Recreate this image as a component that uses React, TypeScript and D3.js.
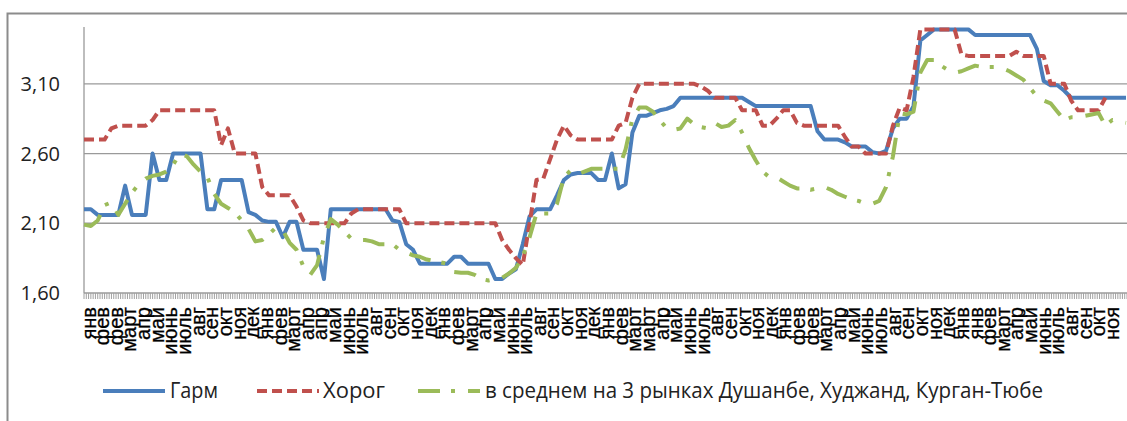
import * as d3 from 'd3';

// month label under every 6th tick of the category axis
const monthLabels = [
  'янв', 'фев', 'фев', 'март', 'апр', 'май', 'июнь', 'июль', 'авг', 'сен', 'окт', 'ноя', 'дек',
  'янв', 'фев', 'март', 'апр', 'апр', 'май', 'июнь', 'июль', 'авг', 'сен', 'окт', 'ноя', 'дек',
  'янв', 'фев', 'март', 'апр', 'май', 'июнь', 'июль', 'авг', 'сен', 'окт', 'ноя', 'дек',
  'янв', 'фев', 'март', 'март', 'апр', 'май', 'июнь', 'июль', 'авг', 'сен', 'окт', 'ноя', 'дек',
  'янв', 'фев', 'фев', 'март', 'апр', 'май', 'июнь', 'июль', 'авг', 'сен', 'окт', 'ноя', 'дек',
  'янв', 'янв', 'фев', 'март', 'апр', 'май', 'июнь', 'июль', 'авг', 'сен', 'окт', 'ноя',
];

const yTicks = [1.6, 2.1, 2.6, 3.1];

// Гарм
const garm = [
  2.20, 2.20, 2.16, 2.16, 2.16, 2.16, 2.37, 2.16, 2.16, 2.16,
  2.60, 2.41, 2.41, 2.60, 2.60, 2.60, 2.60, 2.60, 2.20, 2.20,
  2.41, 2.41, 2.41, 2.41, 2.18, 2.16, 2.12, 2.11, 2.11, 2.00,
  2.11, 2.11, 1.91, 1.91, 1.91, 1.70, 2.20, 2.20, 2.20, 2.20,
  2.20, 2.20, 2.20, 2.20, 2.20, 2.12, 2.11, 1.95, 1.91, 1.81,
  1.81, 1.81, 1.81, 1.81, 1.86, 1.86, 1.81, 1.81, 1.81, 1.81,
  1.70, 1.70, 1.74, 1.77, 1.95, 2.15, 2.20, 2.20, 2.20, 2.30,
  2.41, 2.45, 2.46, 2.46, 2.46, 2.41, 2.41, 2.60, 2.35, 2.38,
  2.75, 2.87, 2.87, 2.89, 2.91, 2.92, 2.94, 3.00, 3.00, 3.00,
  3.00, 3.00, 3.00, 3.00, 3.00, 3.00, 3.00, 2.97, 2.94, 2.94,
  2.94, 2.94, 2.94, 2.94, 2.94, 2.94, 2.94, 2.76, 2.70, 2.70,
  2.70, 2.68, 2.65, 2.65, 2.65, 2.61, 2.60, 2.62, 2.78, 2.85,
  2.85, 2.94, 3.41, 3.45, 3.49, 3.49, 3.49, 3.49, 3.49, 3.49,
  3.45, 3.45, 3.45, 3.45, 3.45, 3.45, 3.45, 3.45, 3.45, 3.35,
  3.12, 3.09, 3.09, 3.05, 3.00, 3.00, 3.00, 3.00, 3.00, 3.00,
  3.00, 3.00, 3.00,
];

// Хорог
const khorog: (number | null)[] = [
  2.70, 2.70, 2.70, 2.70, 2.78, 2.80, 2.80, 2.80, 2.80, 2.80,
  2.84, 2.91, 2.91, 2.91, 2.91, 2.91, 2.91, 2.91, 2.91, 2.91,
  2.66, 2.78, 2.60, 2.60, 2.60, 2.60, 2.36, 2.30, 2.30, 2.30,
  2.30, 2.22, 2.12, 2.10, 2.10, 2.10, 2.10, 2.10, 2.10, 2.17,
  2.20, 2.20, 2.20, 2.20, 2.20, 2.20, 2.20, 2.10, 2.10, 2.10,
  2.10, 2.10, 2.10, 2.10, 2.10, 2.10, 2.10, 2.10, 2.10, 2.10,
  2.10, 1.98, 1.91, 1.85, 1.80, 2.10, 2.41, 2.42, 2.56, 2.70,
  2.80, 2.73, 2.70, 2.70, 2.70, 2.70, 2.70, 2.70, 2.80, 2.82,
  3.00, 3.10, 3.10, 3.10, 3.10, 3.10, 3.10, 3.10, 3.10, 3.10,
  3.08, 3.05, 3.00, 3.00, 3.00, 3.00, 2.91, 2.91, 2.91, 2.80,
  2.80, 2.85, 2.91, 2.91, 2.82, 2.80, 2.80, 2.80, 2.80, 2.80,
  2.80, 2.72, 2.65, 2.65, 2.60, 2.60, 2.60, 2.60, 2.80, 2.93,
  2.91, 3.15, 3.49, 3.49, 3.49, 3.49, 3.49, 3.49, 3.31, 3.30,
  3.30, 3.30, 3.30, 3.30, 3.30, 3.30, 3.33, 3.30, 3.30, 3.30,
  3.30, 3.10, 3.10, 3.10, 2.98, 2.91, 2.91, 2.91, 2.91, 3.00,
  null, null, null,
];

// в среднем на 3 рынках
const avg3 = [
  2.09, 2.08, 2.12, 2.23, 2.25, 2.16, 2.24, 2.32, 2.38, 2.42,
  2.44, 2.45, 2.47, 2.52, 2.60, 2.58, 2.52, 2.47, 2.43, 2.31,
  2.24, 2.21, 2.18, 2.12, 2.06, 1.97, 1.98, 2.02, 2.07, 2.05,
  1.96, 1.91, 1.79, 1.73, 1.80, 2.00, 2.13, 2.09, 2.04, 1.99,
  1.98, 1.98, 1.97, 1.95, 1.95, 1.95, 1.91, 1.89, 1.87, 1.86,
  1.84, 1.83, 1.82, 1.81, 1.75, 1.745, 1.745, 1.73, 1.70, 1.69,
  1.70, 1.71, 1.74, 1.78, 1.86, 2.00, 2.17, 2.17, 2.17, 2.24,
  2.43, 2.48, 2.45, 2.47, 2.49, 2.49, 2.49, 2.49, 2.49, 2.63,
  2.85, 2.93, 2.93, 2.90, 2.84, 2.78, 2.77, 2.78, 2.85, 2.81,
  2.79, 2.78, 2.82, 2.79, 2.80, 2.84, 2.75, 2.64, 2.55, 2.47,
  2.43, 2.43, 2.40, 2.37, 2.35, 2.35, 2.34, 2.35, 2.36, 2.34,
  2.31, 2.29, 2.27, 2.26, 2.24, 2.24, 2.26, 2.36, 2.58, 2.89,
  2.88, 2.90, 3.18, 3.27, 3.27, 3.23, 3.20, 3.18, 3.19, 3.21,
  3.23, 3.22, 3.22, 3.22, 3.21, 3.19, 3.16, 3.13, 3.07, 3.01,
  2.98, 2.96, 2.90, 2.84, 2.86, 2.86, 2.87, 2.88, 2.89, 2.80,
  2.84, 2.83, 2.82,
];

const TICKS_PER_LABEL = 6;

export default function App() {
  const width = 1127;
  const height = 421;
  const plot = { left: 84, right: 1127, top: 28, bottom: 293 };

  const x = d3.scaleLinear().domain([0, garm.length - 1]).range([plot.left, plot.right - 1]);
  const y = d3.scaleLinear().domain([1.6, 3.5]).range([plot.bottom, plot.top]);
  const nTicks = monthLabels.length * TICKS_PER_LABEL;
  const tickX = d3.scaleLinear().domain([0, nTicks]).range([plot.left, plot.right]);
  const labelX = d3.scaleLinear().domain([0, monthLabels.length - 1]).range([88.5, 1112]);

  const line = d3.line<number | null>()
    .defined(d => d != null)
    .x((_, i) => x(i))
    .y(d => y(d as number));

  const series = [
    { name: 'Гарм', data: garm, color: '#4A7EBB', dash: undefined as string | undefined, lx: 103, tx: 170, tw: 48 },
    { name: 'Хорог', data: khorog, color: '#C0504D', dash: '10 5', lx: 257, tx: 323, tw: 62 },
    { name: 'в среднем на 3 рынках Душанбе, Худжанд, Курган-Тюбе', data: avg3, color: '#9BBB59', dash: '22 11 4 13', lx: 418, tx: 485, tw: 558 },
  ];

  return (
    <svg width={width} height={height} style={{ position: 'absolute', left: 0, top: 0, background: '#fff' }}>
      {/* chart frame */}
      <path d={`M7.5,${height} V13.5 H${width}`} fill="none" stroke="#8c8c8c" strokeWidth={2} />

      {/* gridlines */}
      {yTicks.slice(1).map(t => (
        <line key={t} x1={plot.left} x2={plot.right} y1={y(t)} y2={y(t)} stroke="#9a9a9a" strokeWidth={1.3} />
      ))}

      {/* y axis */}
      <line x1={plot.left} x2={plot.left} y1={plot.top - 1} y2={plot.bottom} stroke="#9a9a9a" strokeWidth={1.3} />
      {yTicks.map(t => (
        <text key={t} x={60} y={y(t)} dy="0.35em" textAnchor="end" fontFamily="'Open Sans', sans-serif" fontSize={20} fill="#222">
          {d3.format('.2f')(t).replace('.', ',')}
        </text>
      ))}

      {/* x axis with dense ticks */}
      <line x1={plot.left} x2={plot.right} y1={plot.bottom} y2={plot.bottom} stroke="#9a9a9a" strokeWidth={1.3} />
      {d3.range(nTicks + 1).map(i => (
        <line key={i} x1={tickX(i)} x2={tickX(i)} y1={plot.bottom} y2={plot.bottom + 6} stroke="#a0a0a0" strokeWidth={1} />
      ))}
      {monthLabels.map((m, i) => (
        <text
          key={i}
          transform={`translate(${labelX(i)},307) rotate(-90)`}
          dy="0.35em"
          textAnchor="end"
          fontFamily="'Liberation Sans', Arial, sans-serif"
          fontSize={20}
          fill="#000"
          stroke="#000"
          strokeWidth={0.3}
        >
          {m}
        </text>
      ))}

      {/* lines */}
      {series.map(s => (
        <path key={s.name} d={line(s.data) ?? ''} fill="none" stroke={s.color} strokeWidth={4}
          strokeDasharray={s.dash} strokeLinejoin="round" />
      ))}

      {/* legend */}
      {series.map(s => (
        <g key={s.name}>
          <line x1={s.lx} x2={s.lx + 62} y1={391} y2={391} stroke={s.color} strokeWidth={4} strokeDasharray={s.dash} />
          <text x={s.tx} y={398} fontFamily="'Open Sans', sans-serif" fontSize={21} fill="#222"
            textLength={s.tw} lengthAdjust="spacingAndGlyphs">
            {s.name}
          </text>
        </g>
      ))}
    </svg>
  );
}
